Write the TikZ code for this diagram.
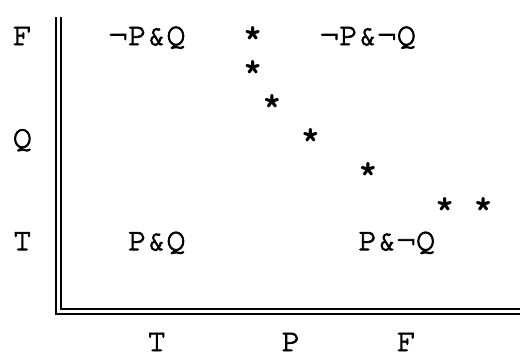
\documentclass[tikz,border=0pt]{standalone}
\usepackage{fontspec}
\setmonofont[FakeBold=2.5]{TeX Gyre Cursor}
\newfontfamily\starfont{TeX Gyre Cursor Bold}

\begin{document}
\begin{tikzpicture}[
  x=0.5pt, y=-0.5pt,
  cell/.style={font=\ttfamily\fontsize{16}{16}\selectfont,inner sep=0pt,anchor=base west},
  starcell/.style={font=\starfont\fontsize{16}{16}\selectfont,inner sep=0pt,anchor=base west},
  axis/.style={draw,double,double distance=1.5pt,line width=1pt,line join=miter}
]
  \useasboundingbox (0,0) rectangle (520,354);
  % Q axis values
  \node[cell] (qF) at (12.4,45) {F};
  \node[cell] (qQ) at (12.4,147.6) {Q};
  \node[cell] (qT) at (12.4,250.2) {T};
  % corner labels
  \node[cell] (npq)  at (108.4,45)  {¬P\&Q};
  \node[cell] (npnq) at (319.6,45)  {¬P\&¬Q};
  \node[cell] (pq)   at (127.6,250.2) {P\&Q};
  \node[cell] (pnq)  at (358,250.2) {P\&¬Q};
  % the stars
  \foreach \c/\r [count=\i] in {12/0,12/1,13/2,15/3,18/4,22/5,24/5}
    \node[starcell] (star\i) at ({12.4+19.2*\c},{46+34.2*\r}) {*};
  % P axis values
  \node[cell] (pT) at (146.8,351) {T};
  \node[cell] (pP) at (281.2,351) {P};
  \node[cell] (pF) at (396.4,351) {F};
  % axes
  \coordinate (ytop) at (58.5,17);
  \coordinate (origin) at (58.5,311);
  \coordinate (xend) at (521,311);
  \path[axis] (ytop) -- (origin) -- (xend);
\end{tikzpicture}
\end{document}
